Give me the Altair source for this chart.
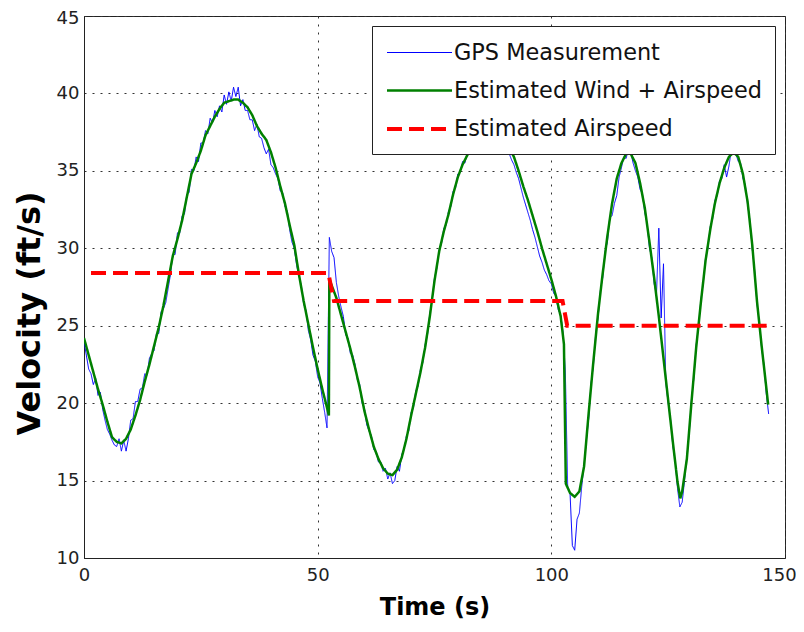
import altair as alt
import pandas as pd

# ---------------- data ----------------
series_names = ["GPS Measurement", "Estimated Wind + Airspeed", "Estimated Airspeed"]
series_colors = ["#0000ff", "#008000", "#ff0000"]
series_widths = [1, 4, 5]
series_dash = [[1, 0], [1, 0], [15, 7]]

x_ticks = [0, 50, 100, 150]
y_ticks = [10, 15, 20, 25, 30, 35, 40, 45]

# GPS measurement, one sample every 0.5 s starting at t = 0
gps_dt = 0.5
gps_v = [
    24.0, 23.1, 22.2, 21.9, 21.2, 21.6, 20.5, 20.7, 19.6, 18.9, 18.3, 18.0, 17.6, 17.3, 17.2, 17.7, 16.9, 17.6, 16.9, 17.7,
    18.9, 19.0, 20.1, 20.1, 20.9, 21.0, 21.9, 21.8, 22.9, 23.2, 23.4, 24.5, 24.5, 25.9, 26.1, 26.5, 27.4, 28.3, 29.6, 29.6,
    31.0, 31.0, 32.1, 32.2, 33.5, 33.6, 35.1, 35.0, 35.9, 35.6, 36.8, 36.8, 37.6, 37.4, 38.4, 38.1, 38.9, 38.5, 39.2, 38.8,
    39.9, 39.3, 40.1, 39.5, 40.4, 39.8, 40.4, 39.2, 39.6, 38.9, 38.9, 38.3, 38.3, 37.6, 38.0, 37.2, 37.1, 36.5, 36.1, 36.4,
    35.4, 35.2, 34.8, 34.5, 33.7, 33.6, 32.7, 32.4, 31.2, 30.4, 30.0, 28.9, 28.2, 27.6, 26.4, 26.0, 24.7, 24.1, 23.1, 22.7,
    21.7, 21.3, 20.3, 19.4, 18.4, 30.7, 29.8, 29.4, 27.8, 26.9, 26.2, 25.6, 24.4, 24.2, 23.2, 23.1, 22.5, 21.5, 21.2, 20.0,
    19.7, 18.6, 18.2, 17.9, 17.0, 16.9, 16.2, 16.2, 15.6, 15.8, 15.1, 15.5, 14.8, 15.0, 15.9, 15.6, 16.7, 17.0, 17.9, 18.2,
    19.4, 19.7, 20.8, 21.1, 22.2, 22.6, 23.8, 24.4, 25.8, 26.6, 28.1, 28.7, 29.9, 30.3, 31.3, 31.5, 32.4, 32.7, 33.7, 33.9,
    34.8, 34.9, 35.6, 35.5, 36.2, 36.2, 36.9, 36.7, 37.4, 37.1, 37.8, 37.5, 38.1, 37.7, 38.2, 37.6, 37.9, 37.3, 37.2, 36.8,
    36.7, 36.3, 36.1, 35.7, 35.4, 34.9, 34.5, 33.9, 33.3, 32.8, 32.3, 31.8, 31.2, 30.7, 30.1, 29.5, 29.1, 28.6, 28.3, 27.9,
    27.7, 27.1, 26.9, 26.0, 25.7, 24.6, 22.0, 14.6, 14.2, 10.8, 10.5, 12.5, 12.9, 14.6, 16.0, 17.6, 19.0, 21.3, 22.4, 24.5,
    25.5, 27.3, 28.1, 29.8, 30.4, 32.0, 32.1, 32.9, 33.4, 34.6, 35.2, 35.9, 35.8, 36.4, 36.2, 35.5, 35.0, 34.6, 33.8, 33.5,
    32.3, 31.6, 30.0, 29.4, 27.7, 27.0, 31.3, 25.5, 29.0, 21.3, 20.0, 19.0, 17.2, 16.3, 14.5, 13.3, 13.6, 15.0, 16.6, 18.0,
    20.3, 21.6, 23.8, 24.9, 26.7, 27.7, 29.4, 30.0, 31.4, 31.9, 33.1, 33.4, 34.4, 34.5, 35.4, 34.6, 35.3, 36.3, 36.5, 36.1,
    35.6, 35.5, 34.5, 34.1, 32.8, 31.8, 29.9, 28.6, 26.4, 25.3, 23.5, 22.5, 20.6, 19.3,
]

# Estimated wind + airspeed (time s, velocity ft/s)
est_t = [
    0, 1, 2, 3, 4, 5, 6, 7, 8, 9,
    10, 11, 12, 13, 14, 15, 16, 17, 18, 19,
    20, 21, 22, 23, 24, 25, 26, 27, 28, 29,
    30, 31, 32, 33, 34, 35, 36, 37, 38, 39,
    40, 41, 42, 43, 44, 45, 46, 47, 48, 49,
    50, 51, 52, 52.4, 52.5, 53, 54, 55, 56, 57,
    58, 59, 60, 61, 62, 63, 64, 65, 66, 67,
    68, 69, 70, 71, 72, 73, 74, 75, 76, 77,
    78, 79, 80, 81, 82, 83, 84, 85, 86, 87,
    88, 89, 90, 91, 92, 93, 94, 95, 96, 97,
    98, 99, 100, 101, 102, 102.7, 103.1, 104, 105, 106,
    107, 108, 109, 110, 111, 112, 113, 114, 115, 116,
    117, 118, 119, 120, 121, 122, 123, 124, 125, 126,
    127, 127.6, 128, 129, 130, 131, 132, 133, 134, 135,
    136, 137, 138, 139, 140, 141, 142, 143, 144, 145,
    146, 146.4,
]
est_v = [
    24.2, 23.1, 22.0, 20.9, 19.9, 18.8, 17.8, 17.5, 17.4, 17.7,
    18.3, 19.2, 20.2, 21.4, 22.5, 23.7, 24.9, 26.3, 27.9, 29.5,
    30.6, 31.8, 33.3, 34.8, 35.5, 36.3, 37.3, 37.9, 38.5, 39.0,
    39.4, 39.5, 39.6, 39.6, 39.4, 39.1, 38.6, 37.9, 37.4, 37.0,
    36.2, 35.2, 34.0, 32.9, 31.5, 30.2, 28.3, 26.6, 25.1, 23.6,
    22.2, 20.9, 19.7, 19.2, 28.0, 27.6, 26.8, 25.7, 24.6, 23.5,
    22.3, 21.0, 19.5, 18.3, 17.2, 16.4, 15.8, 15.45, 15.35, 15.7,
    16.5, 17.7, 19.2, 20.6, 22.0, 23.6, 25.6, 27.9, 29.8, 31.1,
    32.2, 33.5, 34.6, 35.4, 36.0, 36.6, 37.1, 37.5, 37.8, 37.9,
    37.8, 37.5, 37.0, 36.5, 35.9, 35.0, 34.0, 33.1, 32.1, 31.1,
    30.0, 29.0, 28.0, 26.9, 25.6, 23.8, 14.8, 14.2, 13.95, 14.3,
    15.9, 19.4, 22.7, 25.8, 28.4, 30.8, 32.9, 34.5, 35.5, 36.1,
    36.1, 35.5, 34.2, 32.6, 30.4, 28.1, 25.6, 22.9, 20.2, 17.5,
    14.9, 13.85, 14.3, 16.4, 20.1, 23.6, 26.5, 29.2, 31.2, 32.9,
    34.2, 35.2, 35.9, 36.2, 35.9, 34.8, 33.0, 30.2, 26.6, 23.7,
    21.0, 19.9,
]

# Estimated airspeed (piecewise constant)
air_t = [1.5, 52.3, 52.8, 53.5, 102.4, 102.9, 103.4, 146.4]
air_v = [28.4, 28.4, 27.6, 26.6, 26.6, 25.8, 25.0, 25.0]

# ---------------- frames ----------------
gps_df = pd.DataFrame({
    "t": [i * gps_dt for i in range(len(gps_v))],
    "v": gps_v,
    "series": series_names[0],
})
est_df = pd.DataFrame({"t": est_t, "v": est_v, "series": series_names[1]})
air_df = pd.DataFrame({"t": air_t, "v": air_v, "series": series_names[2]})

FONT = "DejaVu Sans"

# legend symbol: a 65 px long horizontal stroke inside a 26 px layout cell
legend = alt.Legend(
    title=None,
    orient="none",
    legendX=288,
    legendY=10,
    fillColor="white",
    strokeColor="#222222",
    padding=13,
    rowPadding=12,
    symbolType="M-1,0H4",
    symbolSize=676,
    labelFont=FONT,
    labelFontSize=22.4,
    labelColor="#111111",
    labelOffset=39,
    labelLimit=400,
)

x_enc = alt.X(
    "t:Q",
    scale=alt.Scale(domain=[0, 150], nice=False),
    axis=alt.Axis(
        values=x_ticks, title="Time (s)", labelFlush=False,
        labelPadding=8, titlePadding=11,
        labelOffset={"condition": {"test": "datum.value == 150", "value": -6}, "value": 0},
    ),
)
y_enc = alt.Y(
    "v:Q",
    scale=alt.Scale(domain=[10, 45], nice=False, zero=False),
    axis=alt.Axis(
        values=y_ticks, title="Velocity (ft/s)", labelPadding=5,
        titlePadding=10, titleFontSize=32, titleY=297,
        labelOffset={"condition": {"test": "datum.value == 45", "value": 2}, "value": 0},
    ),
)
color_enc = alt.Color("series:N", scale=alt.Scale(domain=series_names, range=series_colors), legend=legend)
dash_enc = alt.StrokeDash("series:N", scale=alt.Scale(domain=series_names, range=series_dash), legend=legend)
width_enc = alt.StrokeWidth("series:N", scale=alt.Scale(domain=series_names, range=series_widths), legend=legend)


def layer(df):
    return alt.Chart(df).mark_line(clip=True, strokeCap="butt").encode(
        x=x_enc, y=y_enc, color=color_enc, strokeDash=dash_enc, strokeWidth=width_enc,
        order=alt.Order("t:Q"),
    )


chart = (
    alt.layer(layer(gps_df), layer(est_df), layer(air_df))
    .properties(
        width=701,
        height=542,
        padding={"left": 76, "top": 8, "right": 11, "bottom": 66},
        autosize=alt.AutoSizeParams(type="none"),
        background="white",
    )
    .configure_view(stroke="#222222", strokeWidth=1)
    .configure_axis(
        grid=True,
        gridColor="#333333",
        gridDash=[2, 6],
        gridWidth=1,
        ticks=False,
        domain=True,
        domainColor="#222222",
        domainWidth=1,
        labelFont=FONT,
        labelFontSize=18,
        labelColor="#222222",
        titleFont=FONT,
        titleFontSize=24,
        titleFontWeight="bold",
        titleColor="#000000",
    )
)

chart.save("out.html", embed_options={"renderer": "svg", "actions": False})
